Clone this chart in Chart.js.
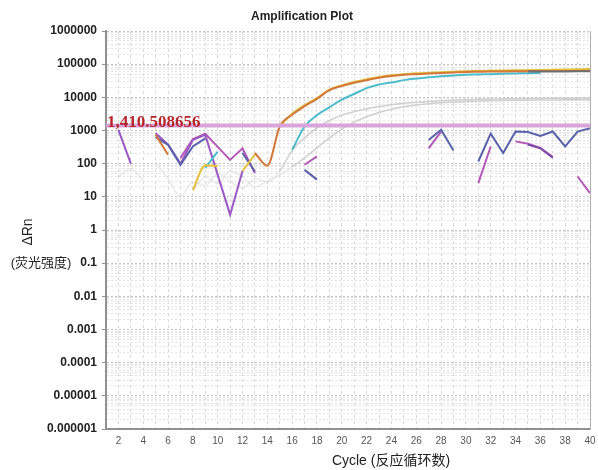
<!DOCTYPE html>
<html>
<head>
<meta charset="utf-8">
<script src="https://cdn.jsdelivr.net/npm/chart.js@4.4.1/dist/chart.umd.min.js"></script>
<style>
html,body{margin:0;padding:0;background:#fff;}
#wrap{width:598px;height:470px;position:relative;}
</style>
</head>
<body>
<div id="wrap"><canvas id="c" width="598" height="470"></canvas></div>
<script>
const _ = null;
// Cycle numbers (x categories)
const cycles = [1,2,3,4,5,6,7,8,9,10,11,12,13,14,15,16,17,18,19,20,21,22,23,24,25,26,27,28,29,30,31,32,33,34,35,36,37,38,39,40];
const xTickLabels = [2,4,6,8,10,12,14,16,18,20,22,24,26,28,30,32,34,36,38,40];
const yTickLabels = ['0.000001','0.00001','0.0001','0.001','0.01','0.1','1','10','100','1000','10000','100000','1000000'];
const minorSteps = [2,3,4,5,6,7,8,9];

const titleText = 'Amplification Plot';
const xTitle = 'Cycle (反应循环数)';
const yTitle1 = 'ΔRn';
const yTitle2 = '(荧光强度)';
const threshold = 1410.508656;
const thresholdLabel = '1,410.508656';

// Series values, one entry per cycle (1..40); null = not plotted
const orange = [_,_,_,_,740,185,_,_,_,_,_,_,210,87,1320,3000,5400,9000,16500,22000,27500,33000,39000,44000,48000,50000,52000,54000,56000,58000,59000,60000,60500,61000,61500,62000,62000,62500,62500,63000];
const yellow = [_,_,_,_,_,_,_,16,90,85,_,60,190,_,1350,3200,5800,9500,17000,23000,29000,35000,41000,46000,50000,53000,55000,57000,59000,61000,62000,63000,64000,65000,66000,67000,68000,69000,70000,71000];
const cyan = [_,_,_,_,_,_,_,_,75,230,_,_,_,_,_,260,1320,2900,5000,8500,12600,19000,24500,28000,33000,37000,40000,43000,45500,48000,49000,50000,51500,52500,53500,54000,_,_,_,_];
const darkGray = [_,_,_,_,_,_,_,_,_,_,_,_,_,_,_,_,_,_,_,_,_,_,_,_,_,_,_,_,_,_,_,_,_,_,60000,60000,60500,60500,61000,61000];
const blue = [_,_,_,_,630,370,92,330,580,_,_,210,58,_,_,_,65,33,_,_,_,_,_,_,_,_,520,1050,250,_,116,800,210,930,900,690,930,330,930,1180];
const purple = [_,1050,100,_,830,380,100,520,740,46,2.9,60,_,_,_,_,_,_,_,_,_,_,_,_,_,_,_,_,_,_,_,_,_,_,_,_,_,_,_,_];
const magenta = [_,_,_,_,_,_,150,550,800,320,130,290,52,_,_,_,93,165,_,_,_,_,_,_,_,_,290,930,_,_,26,330,_,470,400,300,160,_,41,13];
const violet = [_,_,_,_,_,_,_,_,_,_,_,_,_,_,_,_,_,_,_,_,_,_,_,_,_,_,_,_,_,_,_,_,_,_,380,290,150,_,_,_];
const grayA = [_,_,_,_,110,35,10,28,22,50,30,18,35,28,60,250,600,1200,2000,2900,3700,4500,5300,6000,6600,7100,7500,7900,8200,8500,8700,8900,9000,9100,9200,9300,9400,9400,9500,9500];
const grayB = [_,40,70,30,_,_,_,15,40,25,60,40,20,30,45,80,150,300,600,1100,1800,2600,3500,4400,5200,5900,6400,6900,7200,7500,7700,7900,8000,8100,8200,8300,8300,8400,8400,8500];
const thresholdLine = cycles.map(() => threshold);

const toPts = arr => cycles.map((c, i) => ({x: c, y: arr[i]}));

// y ticks: decades plus minor subdivisions
const decades = yTickLabels.map(Number);
const yTicks = [];
decades.forEach((d, i) => {
  yTicks.push(d);
  if (i < decades.length - 1) minorSteps.forEach(m => yTicks.push(d * m));
});
const isDecade = v => Math.abs(Math.log10(v) - Math.round(Math.log10(v))) < 1e-9;

function ds(label, arr, color, width, order, tension, extra) {
  return Object.assign({
    label, data: toPts(arr), borderColor: color, backgroundColor: color,
    borderWidth: width, pointRadius: 0, pointHoverRadius: 0, fill: false,
    spanGaps: false, tension: tension || 0, cubicInterpolationMode: tension ? 'monotone' : 'default', order
  }, extra || {});
}
const faintGray = {segment: {borderColor: c => (c.p0.parsed.y < 150 && c.p1.parsed.y < 150) ? 'rgba(215,215,215,0.55)' : 'rgba(200,200,200,0.85)'}};

const datasets = [
  ds('threshold', thresholdLine, '#d9a4d9', 4, 0),
  ds('darkGray', darkGray, '#6d6d6d', 2, 1),
  ds('orange', orange, '#d27838', 2, 2, 0.4),
  ds('yellow', yellow, '#e3c03c', 2, 3, 0.4),
  ds('cyan', cyan, '#4cbccc', 2, 4, 0.4),
  ds('blue', blue, '#5862aa', 2, 5),
  ds('violet', violet, '#7a4aa8', 2, 6),
  ds('purple', purple, '#9a58c4', 2, 7),
  ds('magenta', magenta, '#b458b8', 2, 8),
  ds('grayA', grayA, 'rgba(200,200,200,0.85)', 1.5, 9, 0.4, faintGray),
  ds('grayB', grayB, 'rgba(210,210,210,0.85)', 1.5, 10, 0.4, faintGray)
];

const textPlugin = {
  id: 'texts',
  afterDraw(chart) {
    const {ctx, chartArea, scales} = chart;
    ctx.save();
    ctx.fillStyle = '#222';
    ctx.font = 'bold 12px "Liberation Sans", Arial, sans-serif';
    ctx.textAlign = 'center';
    ctx.textBaseline = 'middle';
    ctx.fillText(titleText, 302, 17);

    ctx.font = '14px "Liberation Sans", "Noto Sans CJK SC", sans-serif';
    ctx.fillText(xTitle, 391, 461);

    ctx.font = '13px "Liberation Sans", "Noto Sans CJK SC", sans-serif';
    ctx.fillText(yTitle2, 41, 263);
    ctx.save();
    ctx.translate(28, 232);
    ctx.rotate(-Math.PI / 2);
    ctx.font = '14px "Liberation Sans", sans-serif';
    ctx.fillText(yTitle1, 0, 0);
    ctx.restore();

    ctx.font = 'bold 17px "Liberation Serif", "DejaVu Serif", serif';
    ctx.fillStyle = '#b3262b';
    ctx.textAlign = 'left';
    ctx.textBaseline = 'alphabetic';
    ctx.fillText(thresholdLabel, chartArea.left + 1, scales.y.getPixelForValue(threshold) + 1);
    ctx.restore();
  }
};

new Chart(document.getElementById('c'), {
  type: 'line',
  data: {datasets},
  plugins: [textPlugin],
  options: {
    responsive: false,
    animation: false,
    devicePixelRatio: 1,
    layout: {padding: {top: 31, right: 8, left: 0, bottom: 0}},
    plugins: {legend: {display: false}, title: {display: false}, tooltip: {enabled: false}},
    scales: {
      x: {
        type: 'linear', min: 1, max: 40,
        afterFit: s => { s.height = 41; },
        afterBuildTicks: s => { s.ticks = cycles.map(v => ({value: v})); },
        ticks: {
          autoSkip: false, maxRotation: 0, padding: 0,
          color: '#555', font: {size: 10, family: '"Liberation Sans", Arial, sans-serif'},
          callback: v => xTickLabels.includes(v) ? String(v) : ''
        },
        grid: {color: '#d8d8d8', lineWidth: 1, drawTicks: true, tickLength: 6, tickColor: 'rgba(0,0,0,0)'},
        border: {display: true, color: '#909090', width: 2, dash: [3, 3]}
      },
      y: {
        type: 'logarithmic', min: 1e-6, max: 1e6,
        afterFit: s => { s.width = 106; },
        afterBuildTicks: s => { s.ticks = yTicks.map(v => ({value: v})); },
        ticks: {
          autoSkip: false, padding: 5,
          color: '#222', font: {size: 12, weight: 'bold', family: '"Liberation Sans", Arial, sans-serif'},
          callback: v => {
            if (!isDecade(v)) return '';
            const idx = decades.findIndex(d => Math.abs(Math.log10(d) - Math.log10(v)) < 1e-9);
            return idx >= 0 ? yTickLabels[idx] : '';
          }
        },
        grid: {
          lineWidth: 1, drawTicks: true, tickLength: 4,
          color: c => (c.tick && isDecade(c.tick.value)) ? '#c4c4c4' : '#e4e4e4',
          tickColor: c => (c.tick && isDecade(c.tick.value)) ? '#909090' : 'rgba(0,0,0,0)',
          tickBorderDash: [], tickWidth: 1
        },
        border: {display: true, color: '#909090', width: 2, dash: [2, 2]}
      },
      yR: {
        type: 'linear', position: 'right', display: true,
        afterFit: s => { s.width = 0; },
        ticks: {display: false},
        grid: {display: false, drawTicks: false},
        border: {display: true, color: '#b0b0b0', width: 1}
      }
    }
  }
});
</script>
</body>
</html>
